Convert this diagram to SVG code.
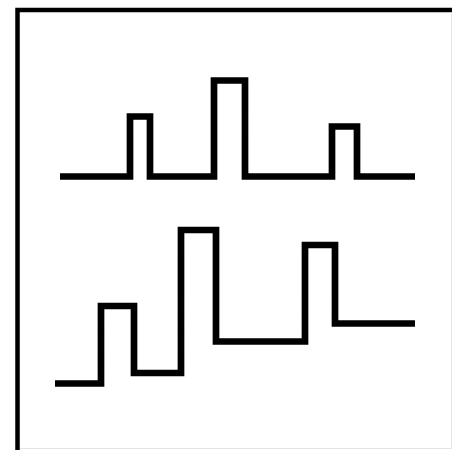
<svg xmlns="http://www.w3.org/2000/svg" width="452" height="450" viewBox="0 0 452 450">
<style>
.wave{fill:none;stroke:#000;stroke-width:6.7;stroke-linejoin:miter;stroke-linecap:butt}
.frame{fill:#fff;stroke:#000;stroke-width:4.5}
.edge{fill:none;stroke:#e4e4e4;stroke-width:1}
</style>
<rect x="0" y="0" width="452" height="450" fill="#fff"/>
<rect class="frame" x="17.5" y="10" width="450" height="460"/>
<polyline class="edge" points="451.5,12.5 451.5,448.5 20,448.5"/>
<g id="top-wave">
<polyline class="wave" points="60,176.5 130,176.5 130,116.5 150,116.5 150,176.5 214,176.5 214,80.5 245,80.5 245,176.5 332,176.5 332,126.5 357,126.5 357,176.5 415,176.5"/>
</g>
<g id="bottom-wave">
<polyline class="wave" points="55,383.5 101,383.5 101,306 134,306 134,373 181,373 181,230 216,230 216,341.5 305,341.5 305,245 335,245 335,323.5 415,323.5"/>
</g>
</svg>
